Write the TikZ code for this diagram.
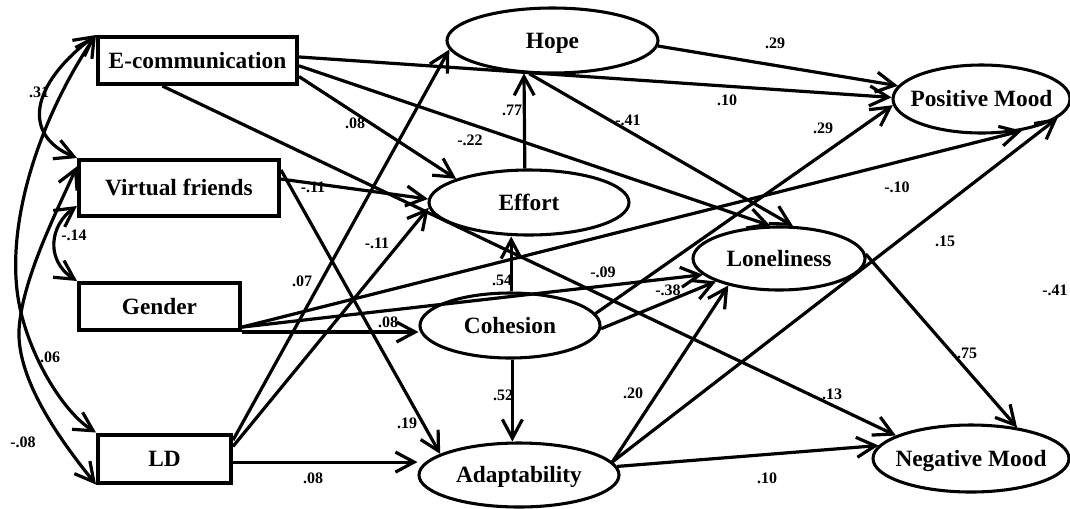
\documentclass[tikz,border=0pt]{standalone}
\usepackage{fontspec}
\setmainfont{Liberation Serif}
\usetikzlibrary{arrows.meta,shapes.geometric}
\newcommand\nlab[1]{\makebox[0pt]{#1}}
\begin{document}
\begin{tikzpicture}[x=0.75pt,y=-0.75pt,
  box/.style={draw,line width=3pt,rectangle,inner sep=0pt,text height=11.6pt,text depth=0pt,font=\fontsize{17.5}{20}\selectfont\bfseries},
  ell/.style={draw,line width=2.3pt,ellipse,inner sep=0pt,text height=11.6pt,text depth=0pt,font=\fontsize{17.5}{20}\selectfont\bfseries},
  arr/.style={line width=2.4pt,-{Straight Barb[length=14pt,width=15pt]}},
  cov/.style={line width=2.4pt,{Straight Barb[length=14pt,width=15pt]}-{Straight Barb[length=14pt,width=15pt]}},
  lab/.style={font=\fontsize{12}{14}\selectfont\bfseries,inner sep=1pt}
]
\fill[white] (0,0) rectangle (1070,508);
\useasboundingbox (0,0) rectangle (1070,508);

% observed variables
\node[box,minimum width=149.25pt,minimum height=35.25pt] (ecomm) at (197.5,60.5) {E-communication};
\node[box,minimum width=150pt,minimum height=42pt] (vf) at (179,188) {Virtual friends};
\node[box,minimum width=120.75pt,minimum height=35.25pt] (gender) at (159.5,306.5) {Gender};
\node[box,minimum width=99.75pt,minimum height=36pt] (ld) at (164.5,458.5) {LD};

% latent / outcome variables
\node[ell,minimum width=158.25pt,minimum height=48.75pt] (hope) at (552.5,40.5) {\nlab{Hope}};
\node[ell,minimum width=150pt,minimum height=48.75pt] (effort) at (529,202.5) {\nlab{Effort}};
\node[ell,minimum width=135pt,minimum height=48.75pt] (cohesion) at (510,325.5) {\nlab{Cohesion}};
\node[ell,minimum width=150pt,minimum height=48pt] (adapt) at (519,475) {\nlab{Adaptability}};
\node[ell,minimum width=129pt,minimum height=47.25pt] (lonely) at (779,258.5) {\nlab{Loneliness}};
\node[ell,minimum width=132.75pt,minimum height=51pt] (posmood) at (981.5,99) {\nlab{Positive Mood}};
\node[ell,minimum width=147pt,minimum height=50.25pt] (negmood) at (971,458.5) {\nlab{Negative Mood}};

% covariances
\draw[cov] (ecomm.north west) .. controls (30,85) and (22,135) .. (vf.north west);
\draw[cov] (ecomm.north west) .. controls (45,110) and (8,210) .. (17,290)
   .. controls (23,345) and (60,410) .. (ld.north west);
\draw[cov] (vf.168) .. controls (55,215) and (22,280) .. (19,330)
   .. controls (17,380) and (60,440) .. (ld.south west);
\draw[cov] (vf.190) .. controls (50,225) and (45,260) .. (gender.north west);

% paths
\draw[arr] (hope.-3) -- (posmood.171);
\draw[arr] (ecomm.2) -- (posmood.179);
\draw[arr] (ecomm.-9) -- (effort.162);
\draw[arr] (ecomm.-3) -- (lonely.105);
\draw[arr] (ecomm.-144) -- (negmood.163);
\draw[arr] (effort.97) -- (hope.-131);
\draw[arr] (hope.-125) -- (lonely.67);
\draw[arr] (vf.5) -- (effort.178);
\draw[arr] (vf.10) -- (adapt.165);
\draw[arr] (gender.-14) -- (posmood.-38);
\draw[arr] (gender.-14) -- (lonely.192);
\draw[arr] (gender.south east) -- (gender.south east -| cohesion.west);
\draw[arr] (ld.15) -- (hope.-175);
\draw[arr] (ld.10) -- (effort.183);
\draw[arr] (ld.-3) -- (ld.-3 -| adapt.west);
\draw[arr] (cohesion.88) -- (cohesion.88 |- effort.south);
\draw[arr] (cohesion.-86) -- (cohesion.-86 |- adapt.north);
\draw[arr] (cohesion.8) -- (posmood.-176);
\draw[arr] (cohesion.-2) -- (lonely.200);
\draw[arr] (adapt.8) -- (lonely.208);
\draw[arr] (adapt.8) -- (posmood.-14);
\draw[arr] (adapt.5) -- (negmood.172);
\draw[arr] (lonely.3) -- (negmood.34);

% labels
\node[lab] (l1) at (39,92) {.31};
\node[lab] (l2) at (74,235) {-.14};
\node[lab] (l3) at (50,357) {.06};
\node[lab] (l4) at (23,442) {-.08};
\node[lab] (l5) at (355,123) {.08};
\node[lab] (l6) at (470,140) {-.22};
\node[lab] (l7) at (512,110) {.77};
\node[lab] (l8) at (628,120) {-.41};
\node[lab] (l9) at (775,43) {.29};
\node[lab] (l10) at (727,100) {.10};
\node[lab] (l11) at (823,128) {.29};
\node[lab] (l12) at (313,187) {-.11};
\node[lab] (l13) at (377,243) {-.11};
\node[lab] (l14) at (897,187) {-.10};
\node[lab] (l15) at (945,241) {.15};
\node[lab] (l16) at (302,281) {.07};
\node[lab] (l17) at (502,280) {.54};
\node[lab] (l18) at (603,272) {-.09};
\node[lab] (l19) at (668,290) {-.38};
\node[lab] (l20) at (388,322) {.08};
\node[lab] (l21) at (503,395) {.52};
\node[lab] (l22) at (633,393) {.20};
\node[lab] (l23) at (407,423) {.19};
\node[lab] (l24) at (832,394) {.13};
\node[lab] (l25) at (967,353) {.75};
\node[lab] (l26) at (1055,290) {-.41};
\node[lab] (l27) at (313,478) {.08};
\node[lab] (l28) at (767,478) {.10};
\end{tikzpicture}
\end{document}
